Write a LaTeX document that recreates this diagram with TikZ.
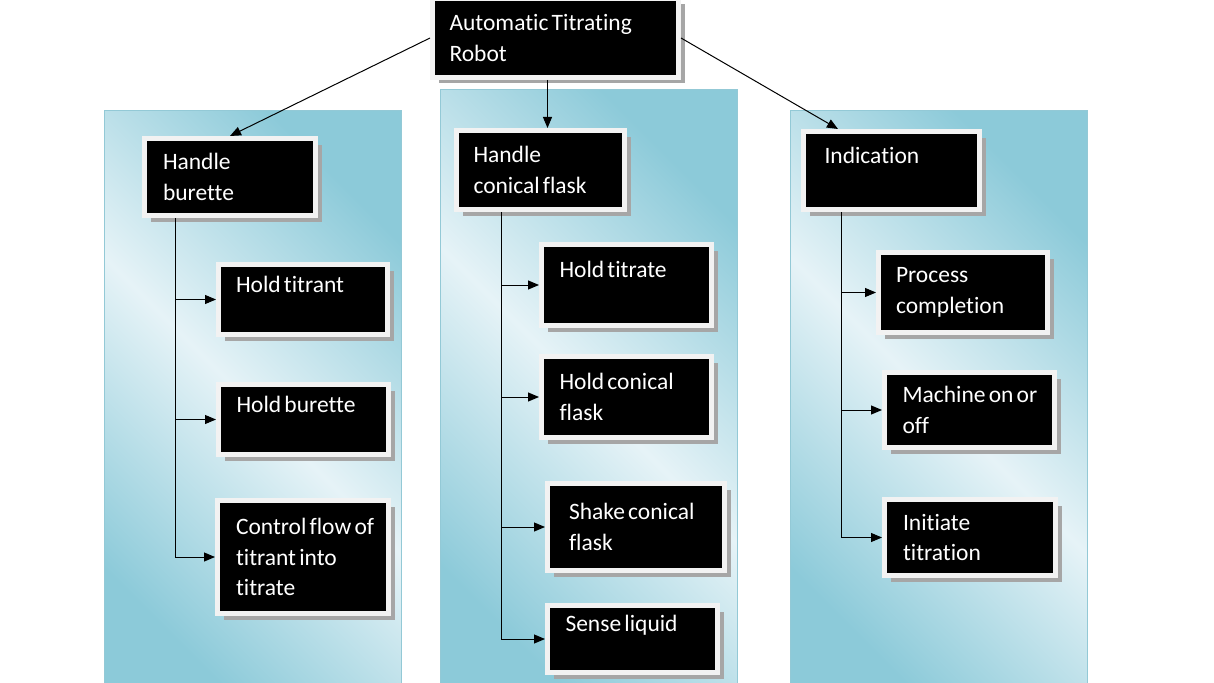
\documentclass[tikz,border=0pt]{standalone}
\usepackage{fontspec}
\setmainfont{Carlito}[Ligatures=NoCommon]
\usetikzlibrary{arrows.meta,shadows}
\definecolor{rim}{HTML}{F2F2F2}
\definecolor{panelDark}{HTML}{8CCAD9}
\definecolor{panelLight}{HTML}{E6F3F7}
\definecolor{panelEdge}{HTML}{93C9D6}
\newcommand\boxfont{\fontsize{23.5}{30.5}\selectfont}
\newcommand\wsp{\kern3.2pt}
\tikzset{
  box/.style={draw=rim, line width=5pt, fill=black, text=white, font=\boxfont,
    align=left, text width=134pt, anchor=north west,
    drop shadow={shadow xshift=6pt, shadow yshift=-6pt, fill=black!35, opacity=1}},
  panel/.style={left color=panelDark, right color=panelDark, middle color=panelLight,
    shading angle=-45, draw=panelEdge, line width=1pt},
}
\begin{document}
\begin{tikzpicture}[x=1pt,y=-1pt]
      \useasboundingbox (0,0) rectangle (1214,682);
      \clip (0,0) rectangle (1214,682);
      % panels
      \draw[panel] (104,111) rectangle (401,700);
      \draw[panel] (440,90) rectangle (737,700);
      \draw[panel] (790,111) rectangle (1087,700);
      % boxes
      \node[box, minimum width=246pt, minimum height=79pt, text width=212pt] (robot) at (430,-4) {Automatic\wsp Titrating\\Robot};
      \node[box, minimum width=171pt, minimum height=77pt] (burette) at (142,136) {Handle\\burette};
      \node[box, minimum width=169pt, minimum height=70pt] (titrant) at (216,262) {Hold\wsp titrant\\~};
      \node[box, minimum width=170pt, minimum height=70pt] (holdbur) at (216,382) {Hold\wsp burette\\~};
      \node[box, minimum width=171pt, minimum height=113pt] (control) at (215,498) {Control\wsp flow\wsp of\\titrant\wsp into\\titrate};
      \node[box, minimum width=168pt, minimum height=79pt] (flask) at (454,128) {Handle\\conical\wsp flask};
      \node[box, minimum width=170pt, minimum height=81pt] (titrate) at (539,242) {Hold\wsp titrate\\~};
      \node[box, minimum width=170pt, minimum height=81pt] (holdflask) at (539,354) {Hold\wsp conical\\flask};
      \node[box, minimum width=177pt, minimum height=87pt] (shake) at (545,481) {Shake\wsp conical\\flask};
      \node[box, minimum width=170pt, minimum height=67pt] (sense) at (545,603) {Sense\wsp liquid\\~};
      \node[box, minimum width=176pt, minimum height=78pt] (indic) at (801,129) {Indication\\~};
      \node[box, minimum width=169pt, minimum height=80pt] (process) at (876,250) {Process\\completion};
      \node[box, minimum width=170pt, minimum height=75pt] (machine) at (882,370) {Machine\wsp on\wsp or\\off};
      \node[box, minimum width=171pt, minimum height=76pt] (initiate) at (882,497) {Initiate\\titration};
      % trunk tops
      \coordinate (bt) at ([xshift=33pt]burette.south west);
      \coordinate (ft) at ([xshift=47pt]flask.south west);
      \coordinate (it) at ([xshift=40pt]indic.south west);
      \coordinate (rs) at ([xshift=-8pt]robot.south);
      \begin{scope}[-{Triangle[length=11pt,width=9pt]}, line width=1pt]
        \draw (robot.west) to (burette.north);
        \draw (rs) to (rs |- flask.north);
        \draw (robot.east) to ([xshift=37pt]indic.north west);
        \draw (bt) |- (titrant.west);
        \draw (bt) |- (holdbur.west);
        \draw (bt) |- (control.west);
        \draw (ft) |- (titrate.west);
        \draw (ft) |- (holdflask.west);
        \draw (ft) |- (shake.west);
        \draw (ft) |- (sense.west);
        \draw (it) |- (process.west);
        \draw (it) |- (machine.west);
        \draw (it) |- (initiate.west);
      \end{scope}
    \end{tikzpicture}
\end{document}
